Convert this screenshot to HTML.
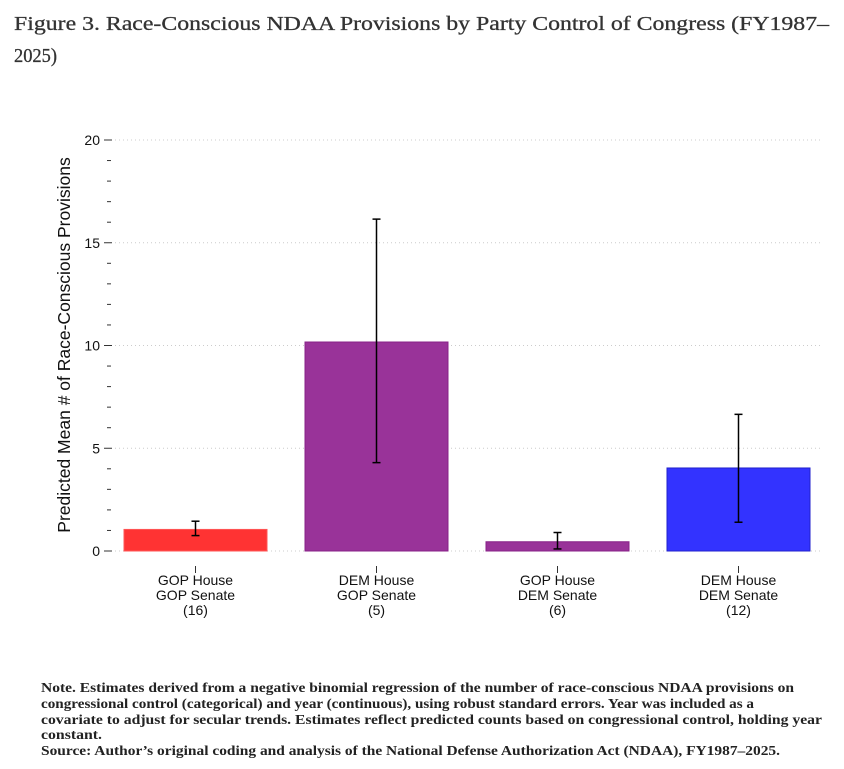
<!DOCTYPE html>
<html><head><meta charset="utf-8"><style>
html,body{margin:0;padding:0;background:#fff;}
svg{display:block;}
</style></head><body>
<svg id="chart" width="844" height="769" viewBox="0 0 844 769" xmlns="http://www.w3.org/2000/svg">
<g font-family="Liberation Serif, serif" font-size="20" fill="#333" stroke="#333" stroke-width="0.3">
<text x="14" y="30" textLength="815" lengthAdjust="spacingAndGlyphs">Figure 3. Race-Conscious NDAA Provisions by Party Control of Congress (FY1987–</text>
<text x="14" y="62" textLength="43" lengthAdjust="spacingAndGlyphs">2025)</text>
</g>
<g id="grid"></g>
<g id="yaxis"></g>
<g id="bars"></g>
<g id="xaxis"></g>
<text transform="translate(70,345) rotate(-90)" text-anchor="middle" font-family="Liberation Sans, sans-serif" font-size="17.5" fill="#111">Predicted Mean # of Race-Conscious Provisions</text>
<g font-family="Liberation Serif, serif" font-weight="bold" font-size="13.5" fill="#222">
<text x="41" y="692" textLength="753" lengthAdjust="spacingAndGlyphs">Note. Estimates derived from a negative binomial regression of the number of race-conscious NDAA provisions on</text>
<text x="41" y="708" textLength="713" lengthAdjust="spacingAndGlyphs">congressional control (categorical) and year (continuous), using robust standard errors. Year was included as a</text>
<text x="41" y="724" textLength="781" lengthAdjust="spacingAndGlyphs">covariate to adjust for secular trends. Estimates reflect predicted counts based on congressional control, holding year</text>
<text x="41" y="739" textLength="61" lengthAdjust="spacingAndGlyphs">constant.</text>
<text x="41" y="755" textLength="739" lengthAdjust="spacingAndGlyphs">Source: Author’s original coding and analysis of the National Defense Authorization Act (NDAA), FY1987–2025.</text>
</g>
</svg>
<script>
const categories = [["GOP House","GOP Senate","(16)"],["DEM House","GOP Senate","(5)"],["GOP House","DEM Senate","(6)"],["DEM House","DEM Senate","(12)"]];
const means = [1.05, 10.17, 0.45, 4.04];
const lowerCI = [0.75, 4.3, 0.1, 1.4];
const upperCI = [1.45, 16.15, 0.9, 6.65];
const barColors = ["#ff3333","#993399","#993399","#3333ff"];
const majorTicks = [0,5,10,15,20];
const NS = "http://www.w3.org/2000/svg";
const y0 = 551, y20 = 140, xl = 115, xr = 822;
const yScale = v => y0 - (v/20)*(y0-y20);
const bandW = 181;
const xCenter = i => 195.5 + bandW*i;
const barW = 143;
function mk(tag, attrs, parent){const e=document.createElementNS(NS,tag);for(const k in attrs)e.setAttribute(k,attrs[k]);parent.appendChild(e);return e;}
const grid=document.getElementById('grid'), ya=document.getElementById('yaxis'), bars=document.getElementById('bars'), xa=document.getElementById('xaxis');
majorTicks.forEach(t=>{
  const y=yScale(t);
  const g=mk('line',{x1:xl,x2:xr,y1:y,y2:y,stroke:'#ccc','stroke-width':1,'stroke-dasharray':'1,3'},grid);
  
  
  const tk=mk('line',{x1:104,x2:112,y1:y,y2:y,stroke:'#333','stroke-width':1},ya);
  
  
  const lb=mk('text',{x:100,y:y+5,'text-anchor':'end','font-family':'Liberation Sans, sans-serif','font-size':14,fill:'#111'},ya);
  lb.textContent=t;
  
  
});
for(let v=1;v<20;v++){ if(v%5===0) continue;
  const y=yScale(v);
  const m=mk('line',{x1:107,x2:111,y1:y,y2:y,stroke:'#333','stroke-width':1},ya);
  
  
}
categories.forEach((c,i)=>{
  const cx=xCenter(i);
  const r=mk('rect',{x:cx-barW/2,y:yScale(means[i]),width:barW,height:y0-yScale(means[i]),fill:barColors[i],stroke:barColors[i]==="#ff3333"?"#ff5555":(barColors[i]==="#3333ff"?"#2222cc":"#882288"),'stroke-width':1},bars);
  
  
  const eg=mk('g',{stroke:'#000','stroke-width':1.5},bars);
  
  
  const yu=yScale(upperCI[i]), yl=yScale(lowerCI[i]);
  mk('line',{x1:cx,x2:cx,y1:yu,y2:yl},eg);
  mk('line',{x1:cx-4,x2:cx+4,y1:yu,y2:yu},eg);
  mk('line',{x1:cx-4,x2:cx+4,y1:yl,y2:yl},eg);
  const tk=mk('line',{x1:cx,x2:cx,y1:566,y2:573,stroke:'#333','stroke-width':1},xa);
  
  
  c.forEach((s,j)=>{
    const t=mk('text',{x:cx,y:585+j*15,'text-anchor':'middle','font-family':'Liberation Sans, sans-serif','font-size':14,fill:'#111'},xa);
    t.textContent=s;
    
    
  });
});
</script>
</body></html>
